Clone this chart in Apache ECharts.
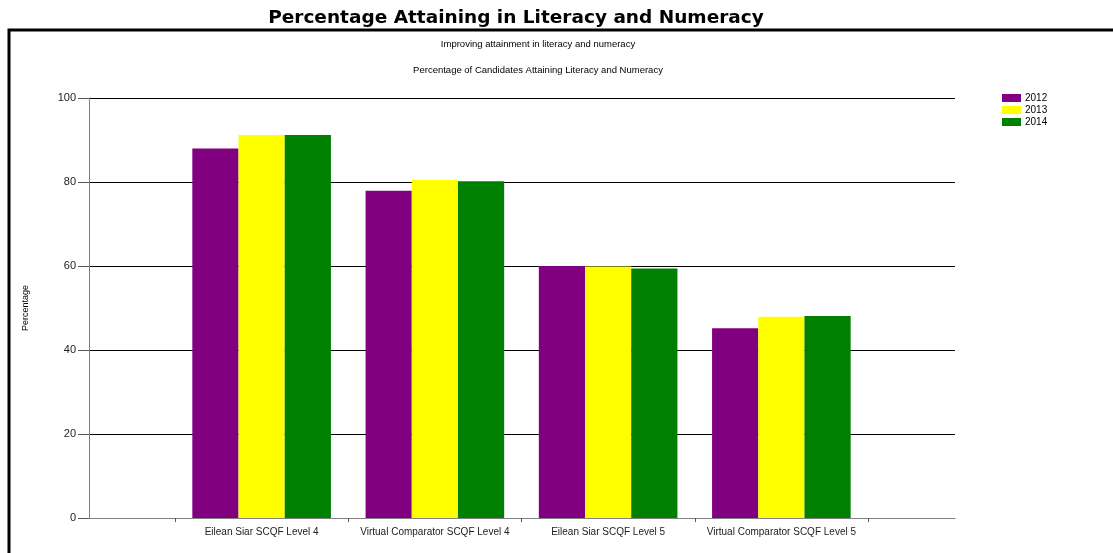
<!DOCTYPE html>
<html>
<head>
<meta charset="utf-8">
<script src="https://cdn.jsdelivr.net/npm/echarts@6/dist/echarts.min.js"></script>
<style>
  html, body { margin: 0; padding: 0; background: #fff; }
  #chart { width: 1113px; height: 553px; }
</style>
</head>
<body>
<div id="chart"></div>
<script>
// data
var categories = [
  "Eilean Siar SCQF Level 4",
  "Virtual Comparator SCQF Level 4",
  "Eilean Siar SCQF Level 5",
  "Virtual Comparator SCQF Level 5"
];
var years = ["2012", "2013", "2014"];
var values2012 = [88.0, 77.9, 60.0, 45.2];
var values2013 = [91.2, 80.5, 59.9, 47.9];
var values2014 = [91.2, 80.2, 59.4, 48.1];
var yTicks = [0, 20, 40, 60, 80, 100];

var colors = ["#800080", "#ffff00", "#008000"];
var font = "'Liberation Sans', Arial, sans-serif";

var myChart = echarts.init(document.getElementById("chart"), null, { renderer: "canvas" });

myChart.setOption({
  animation: false,
  backgroundColor: "#fff",
  title: [
    {
      text: "Percentage Attaining in Literacy and Numeracy",
      left: 511, top: 4, textAlign: "center",
      textStyle: { fontFamily: "'Comic Sans MS', 'DejaVu Sans', sans-serif", fontWeight: "bold", fontSize: 18.5, color: "#000" }
    },
    {
      text: "Improving attainment in literacy and numeracy",
      left: 533, top: 34, textAlign: "center",
      textStyle: { fontFamily: font, fontWeight: "normal", fontSize: 9.5, color: "#000" }
    },
    {
      text: "Percentage of Candidates Attaining Literacy and Numeracy",
      left: 533, top: 60, textAlign: "center",
      textStyle: { fontFamily: font, fontWeight: "normal", fontSize: 9.5, color: "#000" }
    }
  ],
  // frame round the chart
  graphic: [
    {
      type: "polyline",
      shape: { points: [[9, 553], [9, 30], [1113, 30]] },
      style: { stroke: "#000", lineWidth: 3, fill: null }
    }
  ],
  legend: {
    data: years,
    orient: "vertical",
    left: 997, top: 88,
    itemWidth: 19, itemHeight: 8, itemGap: 2,
    icon: "rect",
    textStyle: { fontFamily: font, fontSize: 10, color: "#000", padding: [0, 0, 0, -1] }
  },
  grid: [
    { left: 89, right: 158, top: 98, bottom: 35 },   // full plot area (gridlines + y axis)
    { left: 175, right: 245, top: 98, bottom: 35 }   // category slots
  ],
  xAxis: [
    {
      gridIndex: 0, type: "value", min: 0, max: 1,
      axisLine: { show: true, lineStyle: { color: "#808080", width: 1 } },
      axisTick: { show: false }, axisLabel: { show: false }, splitLine: { show: false }
    },
    {
      gridIndex: 1, type: "category", data: categories,
      axisLine: { show: false },
      axisTick: { show: true, interval: 0, length: 4, inside: false, lineStyle: { color: "#555" } },
      axisLabel: { interval: 0, fontFamily: font, fontSize: 10, color: "#222", margin: 9 },
      splitLine: { show: false }
    }
  ],
  yAxis: [
    {
      gridIndex: 0, type: "value", min: 0, max: 100, interval: 20,
      name: "Percentage", nameLocation: "middle", nameGap: 59,
      nameTextStyle: { fontFamily: font, fontSize: 9, color: "#000" },
      axisLine: { show: true, lineStyle: { color: "#808080", width: 1 } },
      axisTick: { show: true, length: 11, lineStyle: { color: "#555" } },
      axisLabel: {
        fontFamily: font, fontSize: 11, color: "#222", margin: 13,
        formatter: function (v) { return yTicks.indexOf(v) >= 0 ? String(v) : ""; }
      },
      splitLine: { show: true, lineStyle: { color: "#000", width: 1 } }
    },
    {
      gridIndex: 1, type: "value", min: 0, max: 100, show: false
    }
  ],
  series: [
    { name: years[0], type: "bar", xAxisIndex: 1, yAxisIndex: 1, data: values2012, itemStyle: { color: colors[0] }, barGap: "0%", barCategoryGap: "20%" },
    { name: years[1], type: "bar", xAxisIndex: 1, yAxisIndex: 1, data: values2013, itemStyle: { color: colors[1] }, barGap: "0%", barCategoryGap: "20%" },
    { name: years[2], type: "bar", xAxisIndex: 1, yAxisIndex: 1, data: values2014, itemStyle: { color: colors[2] }, barGap: "0%", barCategoryGap: "20%" }
  ]
});
</script>
</body>
</html>
